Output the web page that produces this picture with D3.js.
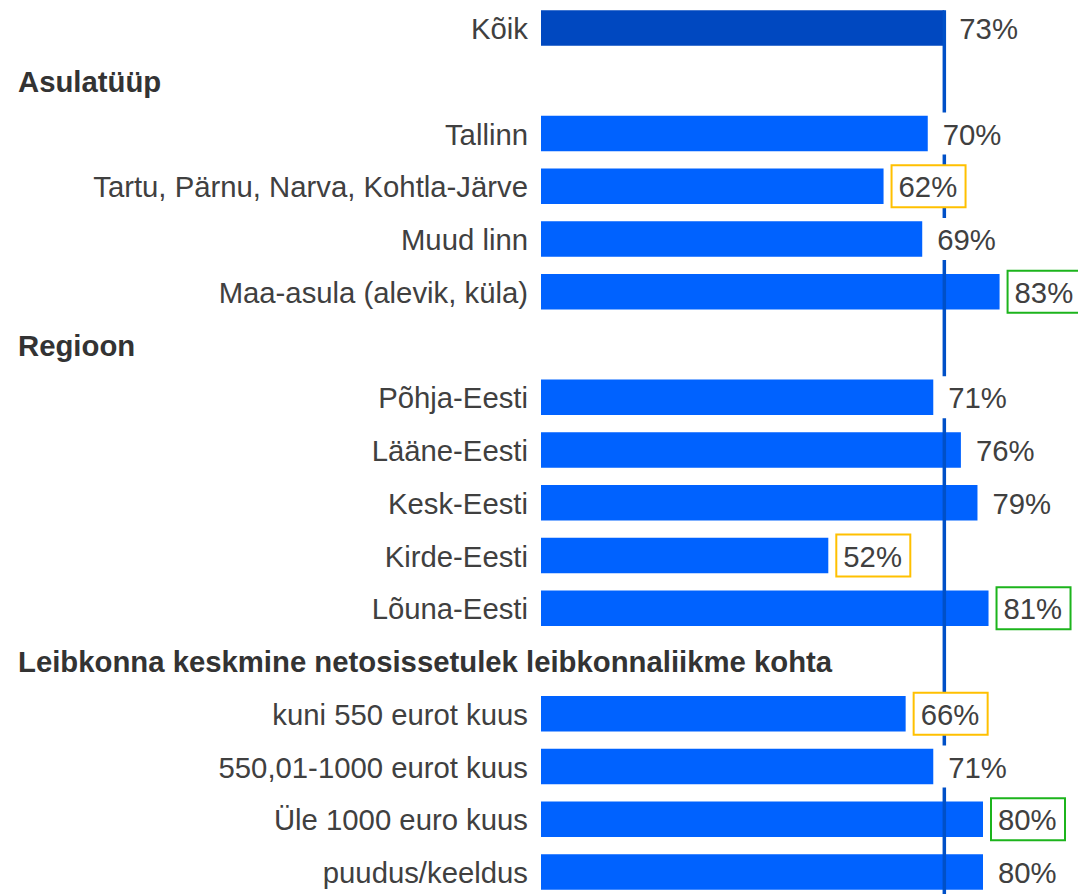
<!DOCTYPE html>
<html><head><meta charset="utf-8">
<script src="https://cdn.jsdelivr.net/npm/d3@7"></script>
<style>html,body{margin:0;padding:0;background:#fff;}svg{display:block;}</style>
</head><body>
<svg id="chart" width="1078" height="894"></svg>
<script>
const rowLabels = ["Kõik","Asulatüüp","Tallinn","Tartu, Pärnu, Narva, Kohtla-Järve","Muud linn","Maa-asula (alevik, küla)","Regioon","Põhja-Eesti","Lääne-Eesti","Kesk-Eesti","Kirde-Eesti","Lõuna-Eesti","Leibkonna keskmine netosissetulek leibkonnaliikme kohta","kuni 550 eurot kuus","550,01-1000 eurot kuus","Üle 1000 euro kuus","puudus/keeldus"];
const rowTypes = ["total","header","bar","bar","bar","bar","header","bar","bar","bar","bar","bar","header","bar","bar","bar","bar"];
const rowValues = [73,null,70,62,69,83,null,71,76,79,52,81,null,66,71,80,80];
const rowHighlight = [null,null,null,"low",null,"high",null,null,null,null,"low","high",null,"low",null,"high",null];
const referenceValue = 73;

const svg = d3.select("#chart");
const fontFamily = "'Liberation Sans', Arial, sans-serif";
const fs = 29.3;

const x = d3.scaleLinear().domain([0,100]).range([541,1093.5]);
const y = d3.scalePoint().domain(d3.range(rowLabels.length)).range([28,872]);
const barH = 35.5;

const rows = rowLabels.map((l,i)=>({label:l,type:rowTypes[i],value:rowValues[i],hl:rowHighlight[i],i}));

svg.append("g").selectAll("rect").data(rows.filter(d=>d.type!=="header")).join("rect")
  .attr("x", x(0))
  .attr("y", d=>y(d.i)-barH/2)
  .attr("width", d=>x(d.value)-x(0))
  .attr("height", barH)
  .attr("fill", d=>d.type==="total" ? "#0048c0" : "#0062ff");

svg.append("line")
  .attr("x1", x(referenceValue)).attr("x2", x(referenceValue))
  .attr("y1", y(0)-barH/2).attr("y2", 894)
  .attr("stroke", "#0050c8").attr("stroke-width", 3.5);

svg.append("g").selectAll("text").data(rows).join("text")
  .attr("x", d=>d.type==="header" ? 18 : 528)
  .attr("y", d=>y(d.i)+11)
  .attr("text-anchor", d=>d.type==="header" ? "start" : "end")
  .attr("font-family", fontFamily)
  .attr("font-size", fs)
  .attr("font-weight", d=>d.type==="header" ? "bold" : "normal")
  .attr("fill", d=>d.type==="header" ? "#333333" : "#404040")
  .text(d=>d.label);

svg.append("g").selectAll("rect").data(rows.filter(d=>d.type!=="header")).join("rect")
  .attr("x", d=>x(d.value)+8)
  .attr("y", d=>y(d.i)-21)
  .attr("width", 74)
  .attr("height", 42)
  .attr("fill", "#fff")
  .attr("stroke", d=>d.hl==="low" ? "#ffc000" : d.hl==="high" ? "#1cb41c" : "none")
  .attr("stroke-width", 2);

svg.append("g").selectAll("text").data(rows.filter(d=>d.type!=="header")).join("text")
  .attr("x", d=>x(d.value)+15)
  .attr("y", d=>y(d.i)+11)
  .attr("font-family", fontFamily)
  .attr("font-size", fs)
  .attr("fill", "#404040")
  .text(d=>d.value+"%");
</script>
</body></html>
